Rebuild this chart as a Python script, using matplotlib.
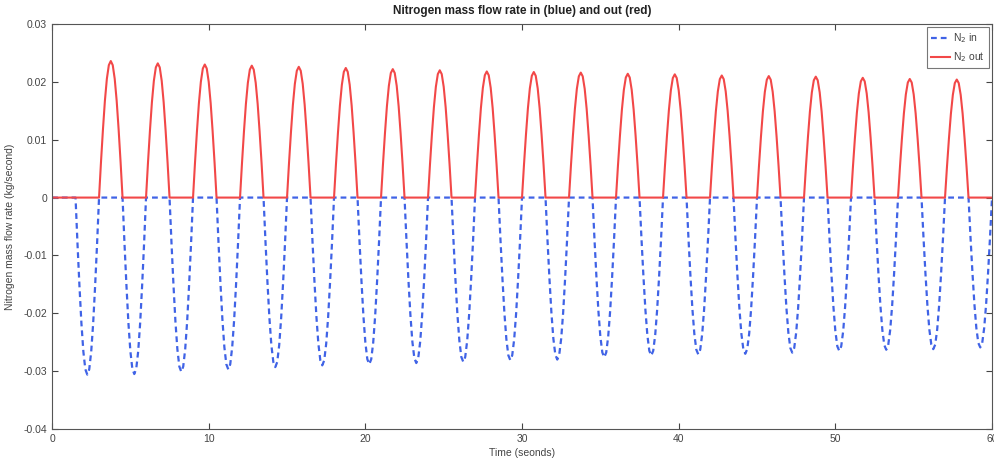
import matplotlib
matplotlib.use("Agg")
import matplotlib.pyplot as plt
import numpy as np

plt.rcParams['font.family'] = ['Liberation Sans', 'DejaVu Sans']

# ---- data ----
period = 3.0          # s between pulses
pulse_len = 1.5       # s duration of each pulse
blue_first = 1.5      # s start of first inlet pulse
red_first = 3.0       # s start of first outlet pulse
t_end = 60.0

# normalized pulse profile (fraction of pulse duration, fraction of peak)
profile_frac = [0.0, 0.083, 0.167, 0.25, 0.333, 0.417, 0.5, 0.583, 0.667, 0.75, 0.833, 0.917, 1.0]
profile_val = [0.0, 0.26, 0.50, 0.71, 0.87, 0.97, 1.0, 0.97, 0.87, 0.71, 0.50, 0.26, 0.0]

# peak outflow per pulse (kg/s)
red_peaks = [0.0236, 0.0232, 0.0230, 0.0228, 0.0226, 0.0224, 0.0222, 0.0220, 0.0218,
             0.0217, 0.0216, 0.0214, 0.0213, 0.0211, 0.0210, 0.0209, 0.0207, 0.0205, 0.0204]
# minimum inflow per pulse (kg/s)
blue_troughs = [-0.0306, -0.0305, -0.0301, -0.0297, -0.0293, -0.0290, -0.0288, -0.0286,
                -0.0284, -0.0281, -0.0280, -0.0276, -0.0273, -0.0271, -0.0270, -0.0268,
                -0.0265, -0.0263, -0.0262, -0.0259]

xticks = [0, 10, 20, 30, 40, 50, 60]
yticks = [-0.04, -0.03, -0.02, -0.01, 0, 0.01, 0.02, 0.03]
yticklabels = ['-0.04', '-0.03', '-0.02', '-0.01', '0', '0.01', '0.02', '0.03']


def build(first, amps):
    t = [0.0]
    y = [0.0]
    for k, a in enumerate(amps):
        s = first + k * period
        for f, v in zip(profile_frac, profile_val):
            t.append(s + f * pulse_len)
            y.append(a * v)
    t.append(t_end)
    y.append(0.0)
    return np.array(t), np.array(y)


tb, yb = build(blue_first, blue_troughs)
tr, yr = build(red_first, red_peaks)

fig = plt.figure(figsize=(9.95, 4.58), dpi=100)
ax = fig.add_axes([0.0523, 0.0633, 0.9447, 0.8843])

ax.plot(tb, yb, linestyle='--', color='#4063e6', linewidth=1.6, dashes=(2.6, 1.8), label='N$_2$ in')
ax.plot(tr, yr, linestyle='-', color='#f24848', linewidth=1.5, label='N$_2$ out')

ax.set_xlim(0, 60)
ax.set_ylim(-0.04, 0.03)
ax.set_xticks(xticks)
ax.set_yticks(yticks)
ax.set_yticklabels(yticklabels)
ax.tick_params(direction='in', top=True, right=True, labelsize=7.5, colors='#444444',
               length=4, width=0.8)
for sp in ax.spines.values():
    sp.set_color('#555555')
    sp.set_linewidth(0.8)

ax.set_title('Nitrogen mass flow rate in (blue) and out (red)', fontsize=8.5,
             fontweight='bold', color='#222222', pad=7)
ax.set_xlabel('Time (seonds)', fontsize=7.5, color='#444444', labelpad=3)
ax.set_ylabel('Nitrogen mass flow rate (kg/second)', fontsize=7.5, color='#444444', labelpad=6)

leg = ax.legend(loc='upper right', fontsize=7.5, frameon=True, fancybox=False,
                edgecolor='#555555', borderaxespad=0.3, handlelength=1.8,
                labelspacing=0.5, borderpad=0.4, handletextpad=0.3)
leg.get_frame().set_linewidth(0.8)
for txt in leg.get_texts():
    txt.set_color('#444444')

fig.savefig('out.png', dpi=100)
